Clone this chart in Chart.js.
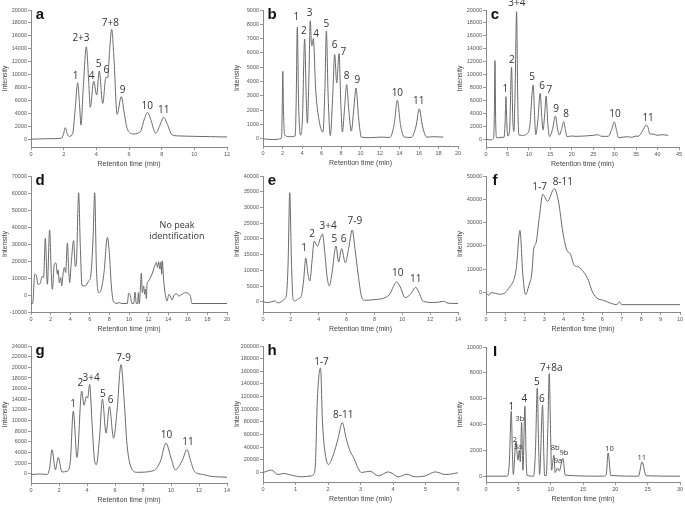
<!DOCTYPE html>
<html>
<head>
<meta charset="utf-8">
<script src="https://cdn.jsdelivr.net/npm/chart.js@4.4.1/dist/chart.umd.min.js"></script>
<style>
  html, body { margin: 0; padding: 0; background: #fff; width: 685px; height: 505px; overflow: hidden; }
  #wrap { position: relative; width: 685px; height: 505px; }
  canvas { position: absolute; }
</style>
</head>
<body>
<div id="wrap"></div>
<script>
// ---- panel a ----
const timeA = [0, 1.0, 1.85, 1.98, 2.1, 2.22, 2.35, 2.55, 2.7, 2.86, 2.98, 3.06, 3.2, 3.39, 3.53, 3.63, 3.84, 4.02, 4.18, 4.39, 4.59, 4.69, 4.82, 4.94, 5.08, 5.27, 5.53, 5.7, 5.88, 6.29, 6.7, 6.95, 7.14, 7.35, 7.63, 7.9, 8.12, 8.35, 8.63, 9.0, 10, 11, 12];
const intensityA = [0, 80, 150, 700, 1800, 800, 450, 900, 4500, 8750, 5000, 2200, 8000, 14300, 9000, 4950, 9000, 6850, 10550, 5550, 9600, 9500, 14000, 17000, 12500, 3860, 6600, 4200, 1700, 820, 1200, 3200, 4150, 2900, 930, 2200, 3400, 2300, 700, 520, 450, 400, 350];
const xTicksA = [0, 2, 4, 6, 8, 10, 12];
const yTicksA = [0, 2000, 4000, 6000, 8000, 10000, 12000, 14000, 16000, 18000, 20000];
const labelsA = [['1', 2.73, 9840], ['2+3', 3.06, 15600], ['4', 3.71, 9790], ['5', 4.14, 11640], ['6', 4.61, 10710], ['7+8', 4.86, 17920], ['9', 5.61, 7620], ['10', 7.12, 5150], ['11', 8.12, 4530]];

// ---- panel b ----
const timeB = [0, 1, 1.9, 1.97, 2.03, 2.1, 2.22, 2.8, 3.3, 3.4, 3.52, 3.65, 3.86, 4.05, 4.27, 4.45, 4.55, 4.7, 4.85, 4.97, 5.03, 5.16, 5.4, 5.7, 6.15, 6.35, 6.5, 6.68, 6.9, 7.15, 7.35, 7.56, 7.8, 7.98, 8.14, 8.35, 8.58, 8.8, 9.06, 9.3, 9.54, 9.8, 10.09, 11, 12, 13.0, 13.45, 13.78, 14.1, 14.5, 15.2, 15.7, 16.03, 16.35, 16.8, 17.5, 18.5];
const intensityB = [0, -50, 50, 2000, 4720, 2000, 250, 150, 200, 2500, 7790, 2500, 250, 1500, 6970, 2500, 1100, 4000, 8250, 6600, 6500, 7000, 3500, 1500, 470, 3500, 7530, 3000, 230, 3000, 5900, 3900, 5960, 2500, 470, 2000, 3790, 2000, 540, 2000, 3550, 1500, 120, 80, 120, 100, 1000, 2690, 1000, 120, 100, 900, 2100, 900, 120, 150, 120];
const xTicksB = [0, 2, 4, 6, 8, 10, 12, 14, 16, 18, 20];
const yTicksB = [0, 1000, 2000, 3000, 4000, 5000, 6000, 7000, 8000, 9000];
const labelsB = [['1', 3.42, 8530], ['2', 4.2, 7550], ['3', 4.79, 8770], ['4', 5.44, 7300], ['5', 6.5, 8000], ['6', 7.35, 6570], ['7', 8.24, 6080], ['8', 8.58, 4400], ['9', 9.68, 4090], ['10', 13.78, 3200], ['11', 15.97, 2640]];

// ---- panel c ----
const timeC = [0, 1, 1.75, 1.95, 2.09, 2.25, 2.5, 3.5, 4.2, 4.45, 4.65, 4.85, 5.1, 5.5, 5.96, 6.25, 6.5, 6.8, 7.13, 7.4, 7.67, 8.5, 9.5, 10.2, 11.0, 11.4, 11.6, 12.1, 12.63, 13.0, 13.3, 13.7, 14.02, 14.4, 14.8, 15.5, 16.19, 16.7, 17.1, 17.6, 18.13, 18.5, 18.9, 20, 21, 23, 25, 26, 27, 28.5, 29.3, 29.9, 30.4, 30.9, 33, 34, 35, 35.5, 36.5, 37.4, 37.8, 38.2, 39, 40, 41, 42.5];
const intensityC = [0, -100, 100, 4000, 12170, 3000, 200, 300, 300, 2500, 6600, 2500, 500, 1500, 11130, 3000, 1200, 8000, 19740, 6000, 670, 600, 800, 2000, 8400, 2500, 700, 3000, 7110, 3500, 1440, 4000, 6700, 2500, 410, 1500, 3600, 1500, 670, 1500, 2730, 1500, 400, 500, 450, 500, 600, 700, 450, 450, 1500, 2680, 1500, 250, 400, 300, 500, 450, 1300, 2200, 1800, 800, 800, 600, 700, 600];
const xTicksC = [0, 5, 10, 15, 20, 25, 30, 35, 40, 45];
const yTicksC = [0, 2000, 4000, 6000, 8000, 10000, 12000, 14000, 16000, 18000, 20000];
const labelsC = [['1', 4.49, 7730], ['2', 6.04, 12270], ['3+4', 7.2, 21030], ['5', 10.77, 9540], ['6', 13.09, 8250], ['7', 14.8, 7630], ['9', 16.34, 4690], ['8', 18.67, 3920], ['10', 30.05, 3920], ['11', 37.8, 3250]];

// ---- panel d ----
const timeD = [0, 0.17, 0.38, 0.54, 0.71, 0.95, 1.12, 1.29, 1.46, 1.67, 1.9, 2.07, 2.18, 2.38, 2.55, 2.69, 2.76, 2.89, 3.03, 3.13, 3.26, 3.4, 3.54, 3.71, 3.85, 3.95, 4.08, 4.35, 4.52, 4.63, 4.86, 5.03, 5.2, 5.55, 5.88, 6.1, 6.33, 6.5, 6.67, 6.9, 7.17, 7.45, 7.79, 7.99, 8.2, 8.4, 8.77, 9.0, 9.27, 9.83, 9.96, 10.13, 10.3, 10.48, 10.61, 10.75, 10.88, 10.95, 11.05, 11.16, 11.26, 11.36, 11.5, 11.6, 11.7, 11.77, 11.84, 12.0, 12.18, 12.35, 12.51, 12.69, 12.79, 12.92, 13.03, 13.16, 13.27, 13.33, 13.4, 13.53, 13.68, 13.88, 14.08, 14.22, 14.39, 14.56, 14.83, 15.07, 15.41, 15.75, 16.02, 16.26, 16.43, 20];
const intensityD = [-5000, -5000, 12250, 11650, 6300, 6900, 10850, 10250, 33300, 6300, 38270, 12840, 3350, 18150, 18740, 12250, 14790, 7300, 10250, 5330, 11650, 16170, 13200, 30600, 14200, 7300, 16760, 31950, 16760, 18740, 60170, 29000, 5720, 5330, 8280, 11240, 32950, 60170, 16760, 1380, 3350, 13200, 33930, 25050, 5330, -3550, -4930, -4500, -5000, -5000, 1000, -200, -5000, -5000, 1780, -5000, -5000, 1380, -5000, 3350, 12840, 1380, 5330, 400, 3350, -2170, 6300, 8280, 10250, 12250, 15200, 18150, 19140, 16170, 19500, 15200, 19500, 12250, 20100, 9270, 1380, -3550, 400, -590, -2960, -590, 790, -590, 400, 1380, 1000, -590, -5000, -5000];
const xTicksD = [0, 2, 4, 6, 8, 10, 12, 14, 16, 18, 20];
const yTicksD = [-10000, 0, 10000, 20000, 30000, 40000, 50000, 60000, 70000];
const labelsD = [['No peak', 14.9, 40800], ['identification', 14.9, 34500]];

// ---- panel e ----
const timeE = [0, 0.36, 0.84, 1.08, 1.4, 1.56, 1.68, 1.8, 1.92, 2.03, 2.12, 2.19, 2.28, 2.5, 2.76, 2.92, 3.07, 3.22, 3.36, 3.52, 3.67, 3.91, 4.1, 4.27, 4.45, 4.6, 4.76, 4.95, 5.24, 5.43, 5.64, 5.91, 6.15, 6.41, 6.6, 6.84, 7.08, 7.32, 8.04, 8.77, 9.13, 9.35, 9.6, 9.85, 10.2, 10.6, 10.97, 11.2, 11.5, 12.37, 12.97, 13.28, 14];
const intensityE = [0, -200, 300, -300, 300, 1000, 2100, 12000, 34700, 15000, 3000, 500, 300, 900, 2100, 7000, 13970, 9000, 6670, 13000, 19260, 17670, 20000, 21580, 15000, 8000, 5080, 9000, 17770, 12700, 16930, 12480, 17000, 22850, 17000, 8460, 1590, 530, 740, 1375, 2650, 4800, 6350, 4800, 1375, 2500, 4650, 3000, 200, -200, 200, -400, -500];
const xTicksE = [0, 2, 4, 6, 8, 10, 12, 14];
const yTicksE = [0, 5000, 10000, 15000, 20000, 25000, 30000, 35000, 40000];
const labelsE = [['1', 2.95, 16930], ['2', 3.53, 21370], ['3+4', 4.68, 24120], ['5', 5.13, 19890], ['6', 5.78, 19890], ['7-9', 6.6, 25810], ['10', 9.68, 8990], ['11', 10.97, 7190]];

// ---- panel f ----
const timeF = [0, 0.14, 0.26, 0.48, 0.74, 0.99, 1.22, 1.42, 1.56, 1.75, 1.9, 2.04, 2.21, 2.37, 2.45, 2.59, 2.76, 2.93, 3.17, 3.52, 3.74, 3.96, 4.17, 4.34, 4.55, 4.77, 5.03, 5.28, 5.45, 5.71, 6.05, 6.48, 6.74, 6.88, 7.0, 10];
const intensityF = [-140, -1140, 0, -300, -700, 0, 2430, 5290, 10290, 26700, 7430, -860, 3140, 8860, 18150, 21700, 33150, 42150, 39150, 44580, 38870, 26000, 18150, 16720, 11720, 11000, 8860, 5290, 1000, -2290, -3290, -4700, -5140, -4000, -5140, -5140];
const xTicksF = [0, 1, 2, 3, 4, 5, 6, 7, 8, 9, 10];
const yTicksF = [0, 10000, 20000, 30000, 40000, 50000];
const labelsF = [['1-7', 2.76, 45300], ['8-11', 3.96, 47440]];

// ---- panel g ----
const timeG = [0, 0.67, 1.14, 1.33, 1.5, 1.74, 1.95, 2.21, 2.57, 2.81, 3.02, 3.29, 3.62, 3.79, 3.95, 4.05, 4.19, 4.35, 4.52, 4.67, 4.9, 5.1, 5.36, 5.6, 5.9, 6.15, 6.43, 6.65, 6.86, 7.17, 7.57, 8.76, 9.24, 9.64, 10.0, 10.31, 10.8, 11.14, 11.4, 11.67, 12.33, 12.81, 14];
const intensityG = [-120, 0, -120, 1100, 4540, 800, 3100, 370, 500, 2360, 11800, 3100, 15550, 12900, 14500, 14300, 16790, 10000, 2980, 1740, 7000, 14050, 7650, 12620, 6720, 12000, 20520, 14000, 5470, 1120, 310, 620, 2360, 5780, 3000, 800, 2500, 4540, 2500, 500, -120, -430, -620];
const xTicksG = [0, 2, 4, 6, 8, 10, 12, 14];
const yTicksG = [0, 2000, 4000, 6000, 8000, 10000, 12000, 14000, 16000, 18000, 20000, 22000, 24000];
const labelsG = [['1', 3.0, 13060], ['2', 3.52, 16980], ['3+4', 4.29, 17900], ['5', 5.14, 14920], ['6', 5.69, 13870], ['7-9', 6.62, 21760], ['10', 9.67, 7340], ['11', 11.21, 5970]];

// ---- panel h ----
const timeH = [0, 0.26, 0.46, 0.62, 0.87, 1.18, 1.49, 1.57, 1.62, 1.67, 1.77, 1.83, 1.9, 2.01, 2.16, 2.31, 2.44, 2.56, 2.67, 2.81, 2.93, 3.03, 3.29, 3.55, 3.86, 4.17, 4.42, 4.68, 4.99, 5.3, 5.61, 6];
const intensityH = [0, 3700, -3200, -1600, -4200, -6800, -5200, -2100, 22100, 111600, 165300, 80000, 35300, 12630, 27400, 53700, 78900, 53700, 35300, 21000, 6300, 0, 2100, -5300, 1000, -6800, -2600, -6800, -5300, 1000, -3200, -500];
const xTicksH = [0, 1, 2, 3, 4, 5, 6];
const yTicksH = [0, 20000, 40000, 60000, 80000, 100000, 120000, 140000, 160000, 180000, 200000];
const labelsH = [['1-7', 1.8, 174700], ['8-11', 2.47, 90500]];

// ---- panel I ----
const timeI = [0, 3.24, 3.6, 3.91, 4.1, 4.22, 4.63, 4.94, 5.15, 5.3, 5.51, 5.71, 6.02, 6.2, 6.33, 7.36, 7.65, 7.93, 8.15, 8.29, 8.75, 8.95, 9.06, 9.32, 9.55, 9.78, 10.0, 10.14, 10.5, 10.7, 11.07, 11.32, 11.89, 12.25, 18.17, 18.58, 18.89, 19.3, 23.57, 24.14, 24.76, 30];
const intensityI = [0, 0, 1000, 5030, 1500, 130, 2700, 1240, 2010, 1110, 4150, 460, 5410, 1500, 80, 0, 2000, 6830, 2000, 130, 5490, 1500, 50, 50, 3500, 7940, 3000, 460, 1620, 280, 640, 390, 1370, 80, 0, 100, 1800, 50, 0, 1110, 30, 0];
const xTicksI = [0, 5, 10, 15, 20, 25, 30];
const yTicksI = [0, 2000, 4000, 6000, 8000, 10000];
const labelsI = [['1', 3.91, 5360], ['2', 4.48, 2780], ['3a', 4.94, 2270], ['3b', 5.2, 4400], ['4', 5.92, 6000], ['5', 7.87, 7290], ['6', 8.65, 6000], ['7+8a', 10.09, 8400], ['8b', 10.7, 2190], ['9a', 11.12, 1160], ['9b', 12.04, 1830], ['10', 19.09, 2140], ['11', 24.09, 1440]];
const smallLabelsI = ['2', '3a', '3b', '8b', '9a', '9b', '10', '11'];

// plot rectangles: [left, right, top, bottom]
const panels = [
  { letter: 'a', time: timeA, intensity: intensityA, xTicks: xTicksA, yTicks: yTicksA, yMin: -1200, labels: labelsA, box: [31, 227, 10, 147] },
  { letter: 'b', time: timeB, intensity: intensityB, xTicks: xTicksB, yTicks: yTicksB, yMin: -500, labels: labelsB, box: [263, 458, 10, 146] },
  { letter: 'c', time: timeC, intensity: intensityC, xTicks: xTicksC, yTicks: yTicksC, yMin: -1200, labels: labelsC, box: [486, 679, 10, 147] },
  { letter: 'd', time: timeD, intensity: intensityD, xTicks: xTicksD, yTicks: yTicksD, yMin: -10000, labels: labelsD, box: [31, 227, 176, 312], noteFont: true },
  { letter: 'e', time: timeE, intensity: intensityE, xTicks: xTicksE, yTicks: yTicksE, yMin: -3200, labels: labelsE, box: [263, 458, 176, 312] },
  { letter: 'f', time: timeF, intensity: intensityF, xTicks: xTicksF, yTicks: yTicksF, yMin: -8300, labels: labelsF, box: [486, 680, 176, 312] },
  { letter: 'g', time: timeG, intensity: intensityG, xTicks: xTicksG, yTicks: yTicksG, yMin: -1700, labels: labelsG, box: [31, 227, 346, 483] },
  { letter: 'h', time: timeH, intensity: intensityH, xTicks: xTicksH, yTicks: yTicksH, yMin: -15000, labels: labelsH, box: [263, 458, 346, 482] },
  { letter: 'I', time: timeI, intensity: intensityI, xTicks: xTicksI, yTicks: yTicksI, yMin: -450, labels: labelsI, box: [486, 680, 347, 482], small: smallLabelsI }
];

const peakLabels = {
  id: 'peakLabels',
  afterDatasetsDraw(chart, args, opts) {
    const { ctx, scales, chartArea } = chart;
    ctx.save();
    ctx.textAlign = 'center';
    ctx.textBaseline = 'middle';
    ctx.fillStyle = '#333';
    opts.items.forEach(([text, t, v]) => {
      const small = opts.small && opts.small.includes(text);
      ctx.font = opts.note ? '9px "Open Sans"' : (small ? '7.5px "Open Sans"' : '10px "Open Sans"');
      ctx.fillText(text, scales.x.getPixelForValue(t), scales.y.getPixelForValue(v));
    });
    ctx.font = 'bold 15px "Liberation Sans"';
    ctx.fillStyle = '#111';
    ctx.fillText(opts.letter, chartArea.left + 9, chartArea.top + 4.5);
    ctx.restore();
  }
};

const wrap = document.getElementById('wrap');
const yAxisW = 34, xAxisH = 24, padTop = 10, padRight = 8;

panels.forEach(p => {
  const [l, r, t, b] = p.box;
  const left = l - yAxisW, top = t - padTop;
  const w = r - left + padRight, h = b - top + xAxisH;
  const canvas = document.createElement('canvas');
  canvas.width = w;
  canvas.height = h;
  canvas.style.left = left + 'px';
  canvas.style.top = top + 'px';
  canvas.style.width = w + 'px';
  canvas.style.height = h + 'px';
  wrap.appendChild(canvas);

  new Chart(canvas.getContext('2d'), {
    type: 'scatter',
    data: {
      datasets: [{
        data: p.time.map((x, i) => ({ x, y: p.intensity[i] })),
        showLine: true,
        borderColor: '#6a6a6a',
        borderWidth: 1,
        pointRadius: 0,
        cubicInterpolationMode: 'monotone'
      }]
    },
    options: {
      responsive: false,
      animation: false,
      events: [],
      layout: { padding: { top: padTop, right: padRight, left: 0, bottom: 0 } },
      plugins: {
        legend: { display: false },
        tooltip: { enabled: false },
        peakLabels: { items: p.labels, small: p.small, note: p.noteFont, letter: p.letter }
      },
      scales: {
        x: {
          type: 'linear',
          min: 0,
          max: p.xTicks[p.xTicks.length - 1],
          afterBuildTicks: s => { s.ticks = p.xTicks.map(v => ({ value: v })); },
          afterFit: s => { s.height = xAxisH; },
          ticks: { font: { family: 'Liberation Sans', size: 5.5 }, color: '#555', padding: 1, maxRotation: 0, callback: v => String(v) },
          grid: { display: true, drawOnChartArea: false, drawTicks: true, tickLength: 3, color: '#999' },
          border: { display: true, color: '#888', width: 1 },
          title: { display: true, text: 'Retention time (min)', font: { family: 'Liberation Sans', size: 7 }, color: '#444', padding: { top: 0, bottom: 2.8 } }
        },
        y: {
          type: 'linear',
          min: p.yMin,
          max: p.yTicks[p.yTicks.length - 1],
          afterBuildTicks: s => { s.ticks = p.yTicks.map(v => ({ value: v })); },
          afterFit: s => { s.width = yAxisW; },
          ticks: { font: { family: 'Liberation Sans', size: 5.5 }, color: '#555', padding: 1, callback: v => String(v) },
          grid: { display: true, drawOnChartArea: false, drawTicks: true, tickLength: 3, color: '#999' },
          border: { display: true, color: '#888', width: 1 },
          title: { display: true, text: 'Intensity', font: { family: 'Liberation Sans', size: 7 }, color: '#444', padding: { top: 3.8, bottom: 0 } }
        }
      }
    },
    plugins: [peakLabels]
  });
});
</script>
</body>
</html>
